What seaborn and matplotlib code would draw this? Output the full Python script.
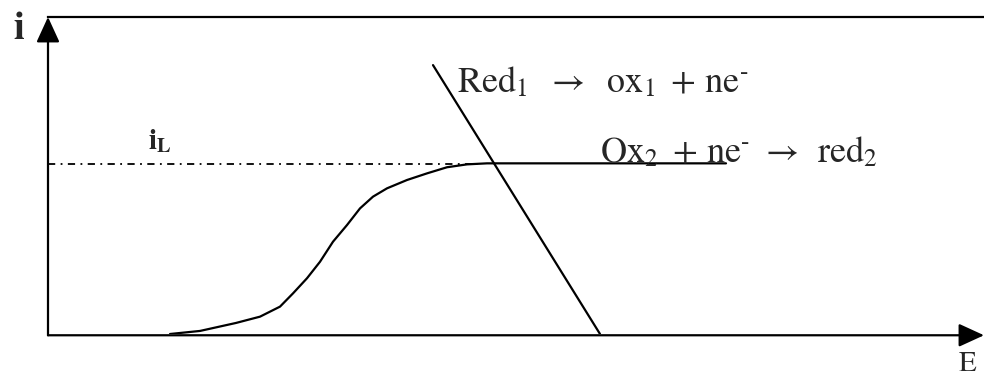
import matplotlib
matplotlib.use("Agg")
import matplotlib.pyplot as plt
import seaborn as sns
import pandas as pd

# Polarisation curve of Ox2 reduction (E, i) and the oxidation line of Red1
wave_E = [12.2, 15.2, 18.8, 21.2, 23.2, 24.5, 25.9, 27.2, 28.5, 29.9, 31.2,
          32.5, 33.9, 35.9, 37.9, 39.9, 41.9, 43.9, 67.8]
wave_i = [0.0, 0.018, 0.065, 0.102, 0.161, 0.239, 0.328, 0.425, 0.543, 0.641,
          0.739, 0.808, 0.857, 0.906, 0.945, 0.981, 0.998, 1.004, 1.004]
red1_E = [38.5, 55.2]
red1_i = [1.582, 0.0]
limit_E = [0.0, 43.0]
limit_i = [1.0, 1.0]

E_max = 93.6
i_max = 1.865

sns.set_theme(style="white")
plt.rcParams["font.family"] = ["STIXGeneral", "Liberation Serif", "DejaVu Serif"]
plt.rcParams["mathtext.fontset"] = "stix"

fig = plt.figure(figsize=(9.84, 3.77), dpi=100)
ax = fig.add_axes([48 / 984, 43 / 377, 936 / 984, 317 / 377])

wave = pd.DataFrame({"E": wave_E, "i": wave_i})
red1 = pd.DataFrame({"E": red1_E, "i": red1_i})
limit = pd.DataFrame({"E": limit_E, "i": limit_i})

sns.lineplot(data=wave, x="E", y="i", ax=ax, color="black", lw=1.6,
             sort=False, estimator=None)
sns.lineplot(data=red1, x="E", y="i", ax=ax, color="black", lw=1.6,
             sort=False, estimator=None)
sns.lineplot(data=limit, x="E", y="i", ax=ax, color="black", lw=1.3,
             linestyle=(0, (4, 3, 1, 3)), sort=False, estimator=None)

ax.set_xlim(0, E_max)
ax.set_ylim(0, i_max)
ax.set_xticks([])
ax.set_yticks([])
ax.set_xlabel("")
ax.set_ylabel("")
for side in ["left", "right", "bottom"]:
    ax.spines[side].set_visible(False)
ax.spines["top"].set_color("black")
ax.spines["top"].set_linewidth(1.6)

# axes arrows
arrow = dict(arrowstyle="-|>,head_length=1.2,head_width=0.55", color="black",
             lw=1.6, shrinkA=0, shrinkB=0, mutation_scale=13)
ax.annotate("", xy=(0, 1), xytext=(0, -0.004), xycoords="axes fraction",
            arrowprops=arrow, annotation_clip=False)
ax.annotate("", xy=(1.0, -0.004), xytext=(0, -0.004), xycoords="axes fraction",
            arrowprops=arrow, annotation_clip=False)

# labels
fig.text(13 / 984, 1 - 39 / 377, "i", fontsize=28, fontweight="bold",
         ha="left", va="baseline")
fig.text(959 / 984, 1 - 371 / 377, "E", fontsize=21,
         ha="left", va="baseline")
ax.text(10.0, 1.09, r"$\mathbf{i}_{\mathbf{L}}$", fontsize=21,
        ha="left", va="baseline")
ax.text(40.9, 1.42, r"Red$_1$ $\;\rightarrow\;$ ox$_1$ $\,$+ ne$^{\text{-}}$",
        fontsize=26, ha="left", va="baseline")
ax.text(55.2, 1.01, r"Ox$_2$ $\,$+ ne$^{\text{-}}$ $\rightarrow\,$ red$_2$",
        fontsize=26, ha="left", va="baseline")

fig.savefig("out.png", dpi=100, facecolor="white")
